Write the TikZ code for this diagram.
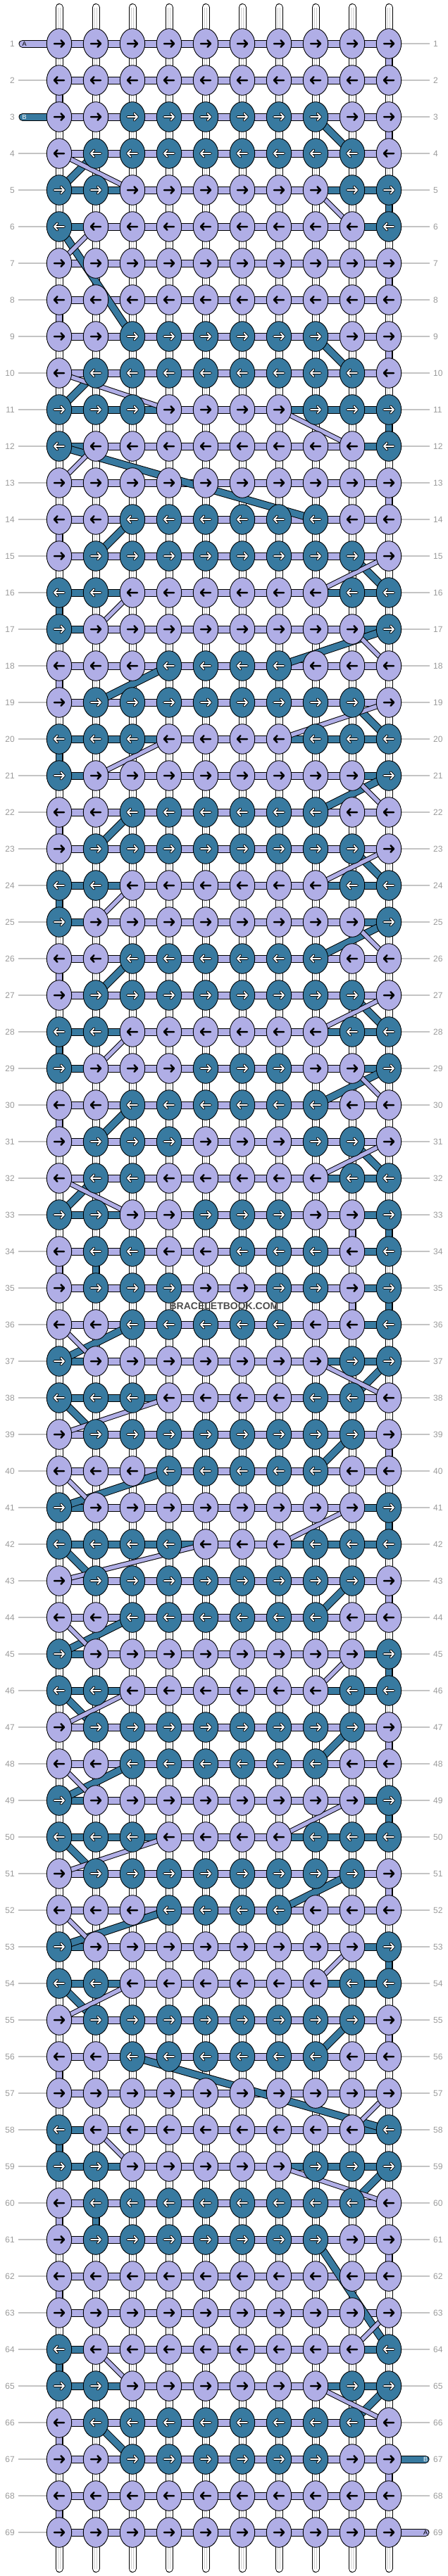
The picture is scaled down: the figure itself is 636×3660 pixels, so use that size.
\documentclass[tikz,border=0pt]{standalone}
\usepackage{fontspec}
\setmainfont{Liberation Sans}
\usetikzlibrary{shapes.geometric}
\definecolor{lav}{HTML}{B0AEE6}
\definecolor{tea}{HTML}{387AA0}
\colorlet{fillL}{lav}
\colorlet{fillT}{tea}
\definecolor{lblgray}{HTML}{9A9A9A}
\definecolor{linegray}{HTML}{C4C4C4}
\def\tT{T}
\def\rowdata{1/{L,L,L,L,L,L,L,L,L,L}/0/10/-1/-1,
2/{L,L,L,L,L,L,L,L,L,L}/1/10/-1/-1,
3/{L,L,T,T,T,T,T,T,L,L}/1/10/0/8,
4/{L,T,T,T,T,T,T,T,T,L}/1/10/2/9,
5/{T,T,L,L,L,L,L,L,T,T}/3/8/1/10,
6/{T,L,L,L,L,L,L,L,L,T}/2/9/1/10,
7/{L,L,L,L,L,L,L,L,L,L}/1/10/-1/-1,
8/{L,L,L,L,L,L,L,L,L,L}/1/10/-1/-1,
9/{L,L,T,T,T,T,T,T,L,L}/1/10/3/8,
10/{L,T,T,T,T,T,T,T,T,L}/1/10/2/9,
11/{T,T,T,L,L,L,L,T,T,T}/4/7/1/10,
12/{T,L,L,L,L,L,L,L,L,T}/2/9/1/10,
13/{L,L,L,L,L,L,L,L,L,L}/1/10/-1/-1,
14/{L,L,T,T,T,T,T,T,L,L}/1/10/3/8,
15/{L,T,T,T,T,T,T,T,T,L}/1/10/2/9,
16/{T,T,L,L,L,L,L,L,T,T}/3/8/1/10,
17/{T,L,L,L,L,L,L,L,L,T}/2/9/1/10,
18/{L,L,L,T,T,T,T,L,L,L}/1/10/4/7,
19/{L,T,T,T,T,T,T,T,T,L}/1/10/2/9,
20/{T,T,T,L,L,L,L,T,T,T}/4/7/1/10,
21/{T,L,L,L,L,L,L,L,L,T}/2/9/1/10,
22/{L,L,T,T,T,T,T,T,L,L}/1/10/3/8,
23/{L,T,T,T,T,T,T,T,T,L}/1/10/2/9,
24/{T,T,L,L,L,L,L,L,T,T}/3/8/1/10,
25/{T,L,L,L,L,L,L,L,L,T}/2/9/1/10,
26/{L,L,T,T,T,T,T,T,L,L}/1/10/3/8,
27/{L,T,T,T,T,T,T,T,T,L}/1/10/2/9,
28/{T,T,L,L,L,L,L,L,T,T}/3/8/1/10,
29/{T,L,L,L,T,T,T,L,L,T}/2/9/1/10,
30/{L,L,T,T,T,T,T,T,L,L}/1/10/3/8,
31/{L,T,T,T,L,L,L,T,T,L}/1/10/2/9,
32/{L,T,T,L,L,L,L,L,T,T}/1/8/2/10,
33/{T,T,L,L,T,T,T,L,L,T}/3/9/1/10,
34/{L,T,T,L,L,T,T,T,L,T}/1/9/2/10,
35/{L,T,T,T,L,L,T,T,L,T}/1/9/2/10,
36/{L,L,T,T,T,T,T,L,L,T}/1/9/3/10,
37/{T,L,L,L,L,L,L,L,T,T}/2/8/1/10,
38/{T,T,T,L,L,L,L,T,T,L}/4/10/1/9,
39/{L,T,T,T,T,T,T,T,T,L}/1/10/2/9,
40/{L,L,L,T,T,T,T,T,L,L}/1/10/4/8,
41/{T,L,L,L,L,L,L,L,L,T}/2/9/1/10,
42/{T,T,T,T,L,L,L,T,T,T}/5/7/1/10,
43/{L,T,T,T,T,T,T,T,T,L}/1/10/2/9,
44/{L,L,T,T,T,T,T,T,L,L}/1/10/3/8,
45/{T,L,L,L,L,L,L,L,L,T}/2/9/1/10,
46/{T,T,L,L,L,L,L,L,T,T}/3/8/1/10,
47/{L,T,T,T,T,T,T,T,T,L}/1/10/2/9,
48/{L,L,T,T,T,T,T,T,L,L}/1/10/3/8,
49/{T,L,L,L,L,L,L,L,L,T}/2/9/1/10,
50/{T,T,T,L,L,L,L,T,T,T}/4/7/1/10,
51/{L,T,T,T,T,T,T,T,T,L}/1/10/2/9,
52/{L,L,L,T,T,T,T,L,L,L}/1/10/4/7,
53/{T,L,L,L,L,L,L,L,L,T}/2/9/1/10,
54/{T,T,L,L,L,L,L,L,T,T}/3/8/1/10,
55/{L,T,T,T,T,T,T,T,T,L}/1/10/2/9,
56/{L,L,T,T,T,T,T,T,L,L}/1/10/3/8,
57/{L,L,L,L,L,L,L,L,L,L}/1/10/-1/-1,
58/{T,L,L,L,L,L,L,L,L,T}/2/9/1/10,
59/{T,T,L,L,L,L,L,T,T,T}/3/7/1/10,
60/{L,T,T,T,T,T,T,T,T,L}/1/10/2/9,
61/{L,T,T,T,T,T,T,T,L,L}/1/10/2/8,
62/{L,L,L,L,L,L,L,L,L,L}/1/10/-1/-1,
63/{L,L,L,L,L,L,L,L,L,L}/1/10/-1/-1,
64/{T,L,L,L,L,L,L,L,L,T}/2/9/1/10,
65/{T,T,L,L,L,L,L,L,T,T}/3/8/1/10,
66/{L,T,T,T,T,T,T,T,T,L}/1/10/2/9,
67/{L,L,T,T,T,T,T,T,L,L}/1/10/3/11,
68/{L,L,L,L,L,L,L,L,L,L}/1/10/-1/-1,
69/{L,L,L,L,L,L,L,L,L,L}/1/11/-1/-1}
\def\connA{1/10/2/10,2/1/3/1,3/10/4/10,4/1/5/3,5/8/6/9,6/2/7/1,7/10/8/10,8/1/9/1,9/10/10/10,
10/1/11/4,11/7/12/9,12/2/13/1,13/10/14/10,14/1/15/1,15/10/16/8,16/3/17/2,17/9/18/10,18/1/19/1,
19/10/20/7,20/4/21/2,21/9/22/10,22/1/23/1,23/10/24/8,24/3/25/2,25/9/26/10,26/1/27/1,27/10/28/8,
28/3/29/2,29/9/30/10,30/1/31/1,31/10/32/8,32/1/33/3,33/9/34/9,34/1/35/1,35/9/36/9,36/1/37/2,
37/8/38/10,38/4/39/1,39/10/40/10,40/1/41/2,41/9/42/7,42/5/43/1,43/10/44/10,44/1/45/2,45/9/46/8,
46/3/47/1,47/10/48/10,48/1/49/2,49/9/50/7,50/4/51/1,51/10/52/10,52/1/53/2,53/9/54/8,54/3/55/1,
55/10/56/10,56/1/57/1,57/10/58/9,58/2/59/3,59/7/60/10,60/1/61/1,61/10/62/10,62/1/63/1,63/10/64/9,
64/2/65/3,65/8/66/10,66/1/67/1,67/10/68/10,68/1/69/1}
\def\connB{3/8/4/9,4/2/5/1,5/10/6/10,6/1/9/3,9/8/10/9,10/2/11/1,11/10/12/10,12/1/14/8,14/3/15/2,
15/9/16/10,16/1/17/1,17/10/18/7,18/4/19/2,19/9/20/10,20/1/21/1,21/10/22/8,22/3/23/2,23/9/24/10,
24/1/25/1,25/10/26/8,26/3/27/2,27/9/28/10,28/1/29/1,29/10/30/8,30/3/31/2,31/9/32/10,32/2/33/1,
33/10/34/10,34/2/35/2,35/10/36/10,36/3/37/1,37/10/38/9,38/1/39/2,39/9/40/8,40/4/41/1,41/10/42/10,
42/1/43/2,43/9/44/8,44/3/45/1,45/10/46/10,46/1/47/2,47/9/48/8,48/3/49/1,49/10/50/10,50/1/51/2,
51/9/52/7,52/4/53/1,53/10/54/10,54/1/55/2,55/9/56/8,56/3/58/10,58/1/59/1,59/10/60/9,60/2/61/2,
61/8/64/10,64/1/65/1,65/10/66/9,66/2/67/3}
\begin{document}
\begin{tikzpicture}[x=1pt,y=-1pt,
  knotbase/.style={ellipse,draw=black,line width=0.9pt,minimum width=35.4pt,minimum height=42.6pt,inner sep=0pt,outer sep=0pt},
  lbl/.style={text=lblgray,font=\fontsize{12}{12}\selectfont,inner sep=0pt},
  endlbl/.style={font=\fontsize{9}{9}\selectfont,inner sep=0pt},
  rowline/.style={draw=linegray,line width=1.1pt},
  arrowpen/.style={line cap=round,line join=round}]
\useasboundingbox (0,0) rectangle (636,3660);
% coordinates
\foreach \r in {1,...,69}{
  \pgfmathsetmacro\yy{10+52*\r}
  \foreach \c in {0,...,11}{
    \pgfmathsetmacro\xx{32+52*\c}
    \coordinate (p-\r-\c) at (\xx,\yy);
  }
  \coordinate (gl-\r) at (26,\yy);
  \coordinate (gr-\r) at (610,\yy);
}
% vertical base strings
\foreach \c in {1,...,10}{
  \pgfmathsetmacro\xx{32+52*\c}
  \coordinate (st-\c) at (\xx,10.5);
  \coordinate (sb-\c) at (\xx,3649.5);
  \draw[line width=11pt,line cap=round,black] (st-\c) -- (sb-\c);
  \draw[line width=9pt,line cap=round,white] (st-\c) -- (sb-\c);
  \draw[line width=4pt,black!20] (st-\c) -- (sb-\c);
  \draw[line width=1.8pt,white] (st-\c) -- (sb-\c);
}
% row guide lines and numbers
\foreach \r in {1,...,69}{
  \pgfmathsetmacro\yy{10+52*\r}
  \ifnum\r=1\relax\else\ifnum\r=3\relax\else\draw[rowline] (gl-\r) -- (p-\r-1);\fi\fi
  \ifnum\r=67\relax\else\ifnum\r=69\relax\else\draw[rowline] (p-\r-10) -- (gr-\r);\fi\fi
  \node[lbl,anchor=east] (ln-\r) at (21,\yy) {\r};
  \node[lbl,anchor=west] (rn-\r) at (615,\yy) {\r};
}
% bars of thread B, then thread A
\foreach \r/\k/\la/\lb/\ta/\tb in \rowdata {
  \ifnum\ta>-1\relax
    \draw[line width=11pt,line cap=round,black] (p-\r-\ta) -- (p-\r-\tb);
    \draw[line width=9pt,line cap=round,tea] (p-\r-\ta) -- (p-\r-\tb);
  \fi
}
\foreach \r/\k/\la/\lb/\ta/\tb in \rowdata {
  \draw[line width=11pt,line cap=round,black] (p-\r-\la) -- (p-\r-\lb);
  \draw[line width=9pt,line cap=round,lav] (p-\r-\la) -- (p-\r-\lb);
}
% connectors between rows
\foreach \ra/\ca/\rb/\cb in \connB {
  \ifnum\ca=\cb\relax
    \draw[line width=10pt,black] (p-\ra-\ca) -- (p-\rb-\cb);
    \draw[line width=8pt,tea] (p-\ra-\ca) -- (p-\rb-\cb);
  \else
    \draw[line width=11pt,black] (p-\ra-\ca) -- (p-\rb-\cb);
    \draw[line width=9pt,tea] (p-\ra-\ca) -- (p-\rb-\cb);
  \fi
}
\foreach \ra/\ca/\rb/\cb in \connA {
  \ifnum\ca=\cb\relax
    \draw[line width=10pt,black] (p-\ra-\ca) -- (p-\rb-\cb);
    \draw[line width=8pt,lav] (p-\ra-\ca) -- (p-\rb-\cb);
  \else
    \draw[line width=7.5pt,black] (p-\ra-\ca) -- (p-\rb-\cb);
    \draw[line width=5.5pt,lav] (p-\ra-\ca) -- (p-\rb-\cb);
  \fi
}
% knots with arrows
\foreach \r/\k/\la/\lb/\ta/\tb in \rowdata {
  \ifodd\r\relax\def\dir{1}\else\def\dir{-1}\fi
  \foreach \cc [count=\c] in \k {
    \node[knotbase,fill=fill\cc] (k-\r-\c) at (p-\r-\c) {};
    \ifx\cc\tT
      \draw[arrowpen,black,line width=3.6pt,shift={(p-\r-\c)},xscale=\dir] (-7,0) -- (7,0) (2.5,-4.8) -- (7,0) -- (2.5,4.8);
      \draw[arrowpen,white,line width=1.8pt,shift={(p-\r-\c)},xscale=\dir] (-7,0) -- (7,0) (2.5,-4.8) -- (7,0) -- (2.5,4.8);
    \else
      \draw[arrowpen,black,line width=2.5pt,shift={(p-\r-\c)},xscale=\dir] (-7,0) -- (7,0) (2.5,-4.8) -- (7,0) -- (2.5,4.8);
    \fi
  }
}
% thread end letters
\node[endlbl,text=black] (endA1) at (34.7,62) {A};
\node[endlbl,text=white] (endB1) at (34.7,166) {B};
\node[endlbl,text=white] (endB2) at (604,3494) {B};
\node[endlbl,text=black] (endA2) at (604,3598) {A};
% watermark
\node[font=\bfseries\fontsize{14}{14}\selectfont,text=black!70,inner sep=0pt] (wm) at (318,1856) {BRACELETBOOK.COM};
\end{tikzpicture}
\end{document}
